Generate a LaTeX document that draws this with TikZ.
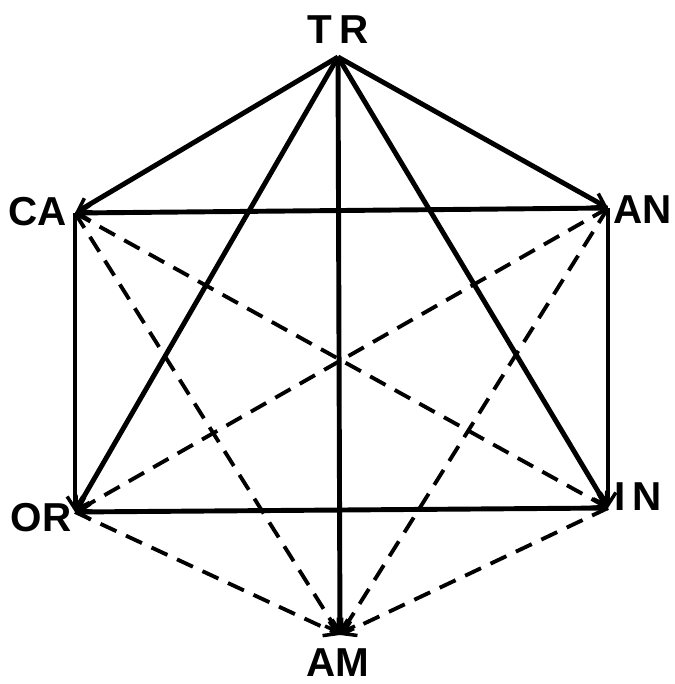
\documentclass[tikz,border=0pt]{standalone}
\usepackage{fontspec}
\setmainfont{Liberation Sans}
\usetikzlibrary{arrows.meta}
\begin{document}
\begin{tikzpicture}[x=0.02cm,y=-0.02cm,
  solidedge/.style={line width=2.8pt,-{Straight Barb[length=7pt,width=9pt,line width=2pt]}},
  dashedge/.style={line width=2.2pt,dash pattern=on 10pt off 6pt,-{Straight Barb[length=7pt,width=9pt,line width=2pt]}},
  lbl/.style={font=\fontsize{23}{26}\selectfont\bfseries}]
\useasboundingbox (0,0) rectangle (675,684);
\coordinate (TR) at (338,57);
\coordinate (CA) at (75,213);
\coordinate (AN) at (608,208);
\coordinate (OR) at (75,512);
\coordinate (IN) at (608,508);
\coordinate (AM) at (340,635);
\node[lbl] (tTR) at (338,30) {T\,R};
\node[lbl] (tCA) at (38,212) {CA};
\node[lbl] (tAN) at (643,210) {AN};
\node[lbl] (tOR) at (41,518) {OR};
\node[lbl] (tIN) at (638,497) {I\,N};
\node[lbl] (tAM) at (338,663) {AM};
% solid edges
\draw[solidedge] (TR) -- (CA);
\draw[solidedge] (TR) -- (AN);
\draw[solidedge] (TR) -- (OR);
\draw[solidedge] (TR) -- (IN);
\draw[solidedge] (TR) -- (AM);
\draw[solidedge] (AN) -- (CA);
\draw[solidedge] (CA) -- (OR);
\draw[solidedge] (AN) -- (IN);
\draw[solidedge] (IN) -- (OR);
% dashed edges
\draw[dashedge] (CA) -- (IN);
\draw[dashedge] (AN) -- (OR);
\draw[dashedge] (CA) -- (AM);
\draw[dashedge] (AN) -- (AM);
\draw[dashedge] (OR) -- (AM);
\draw[dashedge] (IN) -- (AM);
\end{tikzpicture}
\end{document}
